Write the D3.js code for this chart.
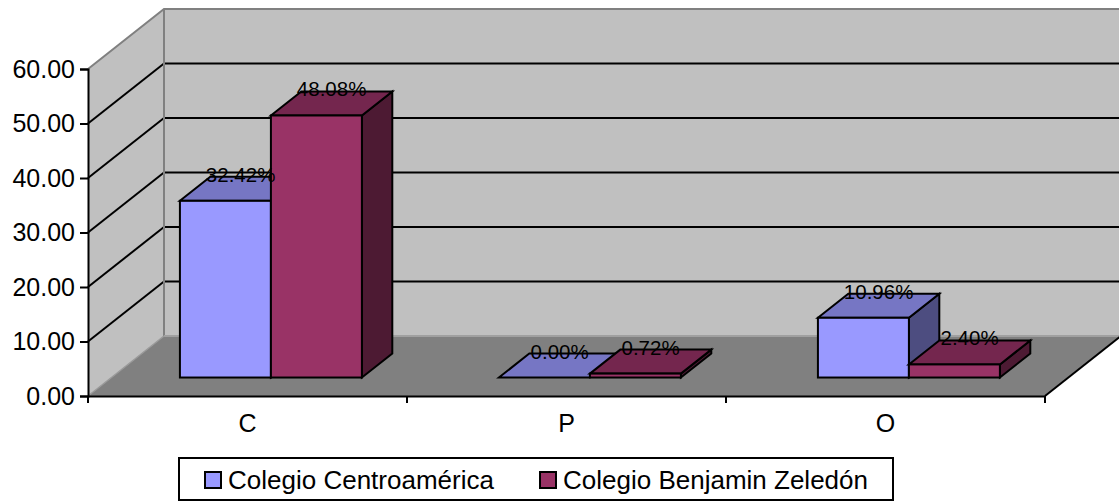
<!DOCTYPE html>
<html>
<head>
<meta charset="utf-8">
<script src="https://cdn.jsdelivr.net/npm/d3@7"></script>
<style>
  html, body { margin: 0; padding: 0; background: #ffffff; }
  svg { display: block; }
  text { font-family: "Liberation Sans", Arial, sans-serif; fill: #000; }
</style>
</head>
<body>
<svg id="chart" width="1119" height="504"></svg>
<script>
// Category labels along the floor
const categories = ["C", "P", "O"];
// Series names (legend)
const seriesNames = ["Colegio Centroamérica", "Colegio Benjamin Zeledón"];
// Percent values per category
const centroamerica = [32.42, 0.00, 10.96];
const benjaminZeledon = [48.08, 0.72, 2.40];
// Value axis ticks
const valueTicks = [0, 10, 20, 30, 40, 50, 60];

const seriesValues = [centroamerica, benjaminZeledon];
const palette = [
  { front: "#9999FF", top: "#7676C4", side: "#4D4D80" },
  { front: "#993366", top: "#74264E", side: "#4D1A33" }
];

const svg = d3.select("#chart");
const W = 1119;

// Front plane of the 3D box, plus the depth vector toward the back wall
const frontLeft = 88, frontRight = 1045;
const depth = { dx: 76, dy: -60 };
const y = d3.scaleLinear().domain([0, 60]).range([396, 69]);
const x = d3.scaleBand().domain(categories).range([frontLeft, frontRight]).padding(0);
const xs = d3.scaleBand().domain(d3.range(seriesNames.length))
  .range([0, x.bandwidth()]).paddingInner(0).paddingOuter(0.753);

// Project a front-plane point back by fraction f of the depth
const proj = (px, py, f) => [px + depth.dx * f, py + depth.dy * f];

const wallFill = "#C0C0C0", floorFill = "#808080", edgeGray = "#808080";
const backX0 = frontLeft + depth.dx, backX1 = W + 10;
const backTop = y(60) + depth.dy, backBottom = y(0) + depth.dy;

// Back wall
svg.append("rect").attr("x", backX0).attr("y", backTop)
  .attr("width", backX1 - backX0).attr("height", backBottom - backTop)
  .attr("fill", wallFill);
// Left wall
svg.append("polygon")
  .attr("points", [[frontLeft, y(60)], [backX0, backTop], [backX0, backBottom], [frontLeft, y(0)]].join(" "))
  .attr("fill", wallFill);

// Gridlines on both walls
const grid = svg.append("g");
valueTicks.filter(v => v > 0 && v < 60).forEach(v => {
  grid.append("line").attr("x1", frontLeft).attr("y1", y(v))
    .attr("x2", backX0).attr("y2", y(v) + depth.dy)
    .attr("stroke", "#000").attr("stroke-width", 2);
  grid.append("line").attr("x1", backX0).attr("y1", y(v) + depth.dy)
    .attr("x2", backX1).attr("y2", y(v) + depth.dy)
    .attr("stroke", "#000").attr("stroke-width", 2);
});

// Wall edges
svg.append("polyline")
  .attr("points", [[frontLeft, y(60)], [backX0, backTop], [backX1, backTop]].join(" "))
  .attr("fill", "none").attr("stroke", edgeGray).attr("stroke-width", 2);
svg.append("line").attr("x1", backX0).attr("y1", backTop).attr("x2", backX0).attr("y2", backBottom)
  .attr("stroke", edgeGray).attr("stroke-width", 2);

// Floor
svg.append("polygon")
  .attr("points", [[frontLeft, y(0)], [backX0, backBottom], [frontRight + depth.dx, backBottom], [frontRight, y(0)]].join(" "))
  .attr("fill", floorFill);
svg.append("line").attr("x1", backX0).attr("y1", backBottom).attr("x2", backX1).attr("y2", backBottom)
  .attr("stroke", "#A0A0A0").attr("stroke-width", 2);
svg.append("line").attr("x1", frontLeft).attr("y1", y(0)).attr("x2", backX0).attr("y2", backBottom)
  .attr("stroke", "#9A9A9A").attr("stroke-width", 1.5);
svg.append("line").attr("x1", frontRight).attr("y1", y(0))
  .attr("x2", frontRight + depth.dx).attr("y2", backBottom)
  .attr("stroke", "#000").attr("stroke-width", 2);

// Bars: prisms standing on the floor
const barFront = 0.308, barDepth = 0.4;
const bdx = depth.dx * barDepth, bdy = depth.dy * barDepth;
const bars = svg.append("g");
const labels = [];
categories.forEach((cat, ci) => {
  seriesValues.forEach((vals, si) => {
    const v = vals[ci];
    const [x0, yb] = proj(x(cat) + xs(si), y(0), barFront);
    const [, yt] = proj(0, y(v), barFront);
    const w = xs.bandwidth();
    const c = palette[si];
    const g = bars.append("g").attr("stroke", "#000").attr("stroke-width", 2).attr("stroke-linejoin", "miter");
    g.append("polygon")
      .attr("points", [[x0 + w, yt], [x0 + w + bdx, yt + bdy], [x0 + w + bdx, yb + bdy], [x0 + w, yb]].join(" "))
      .attr("fill", c.side);
    g.append("polygon")
      .attr("points", [[x0, yt], [x0 + bdx, yt + bdy], [x0 + w + bdx, yt + bdy], [x0 + w, yt]].join(" "))
      .attr("fill", c.top);
    g.append("rect").attr("x", x0).attr("y", yt).attr("width", w).attr("height", yb - yt)
      .attr("fill", c.front);
    labels.push({ x: x0 + w / 2 + bdx / 2, y: yt + bdy + 5, text: d3.format(".2f")(v) + "%" });
  });
});

// Value labels above each bar
svg.append("g").selectAll("text").data(labels).join("text")
  .attr("x", d => d.x).attr("y", d => d.y)
  .attr("text-anchor", "middle").attr("font-size", 20.5)
  .attr("fill", "#1a1a1a")
  .text(d => d.text);

// Value axis on the front-left edge
const yAxis = svg.append("g").attr("transform", `translate(${frontLeft},0)`)
  .call(d3.axisLeft(y).tickValues(valueTicks).tickFormat(d3.format(".2f")).tickSize(8).tickPadding(5));
yAxis.select(".domain").attr("stroke", "#000").attr("stroke-width", 2);
yAxis.selectAll(".tick line").attr("stroke", "#000").attr("stroke-width", 2);
yAxis.selectAll(".tick text").attr("font-size", 25).attr("font-family", "Liberation Sans, Arial, sans-serif")
  .attr("fill", "#000");

// Category axis along the front floor edge
const xAxis = svg.append("g").attr("transform", `translate(0,${y(0)})`)
  .call(d3.axisBottom(x).tickSize(0).tickPadding(18));
xAxis.select(".domain").attr("stroke", "#000").attr("stroke-width", 2);
xAxis.selectAll(".tick text").attr("font-size", 25).attr("font-family", "Liberation Sans, Arial, sans-serif")
  .attr("fill", "#000");
const boundaries = categories.map(c => x(c)).concat([frontRight]);
svg.append("g").selectAll("line").data(boundaries).join("line")
  .attr("x1", d => d).attr("x2", d => d).attr("y1", y(0)).attr("y2", y(0) + 7)
  .attr("stroke", "#000").attr("stroke-width", 2);

// Legend
const legend = svg.append("g");
legend.append("rect").attr("x", 179).attr("y", 458).attr("width", 714).attr("height", 42)
  .attr("fill", "#fff").attr("stroke", "#000").attr("stroke-width", 2);
const legendX = [205, 540];
seriesNames.forEach((name, i) => {
  legend.append("rect").attr("x", legendX[i]).attr("y", 472).attr("width", 16).attr("height", 16)
    .attr("fill", palette[i].front).attr("stroke", "#000").attr("stroke-width", 2);
  legend.append("text").attr("x", legendX[i] + 23).attr("y", 489)
    .attr("font-size", 26).text(name);
});
</script>
</body>
</html>
